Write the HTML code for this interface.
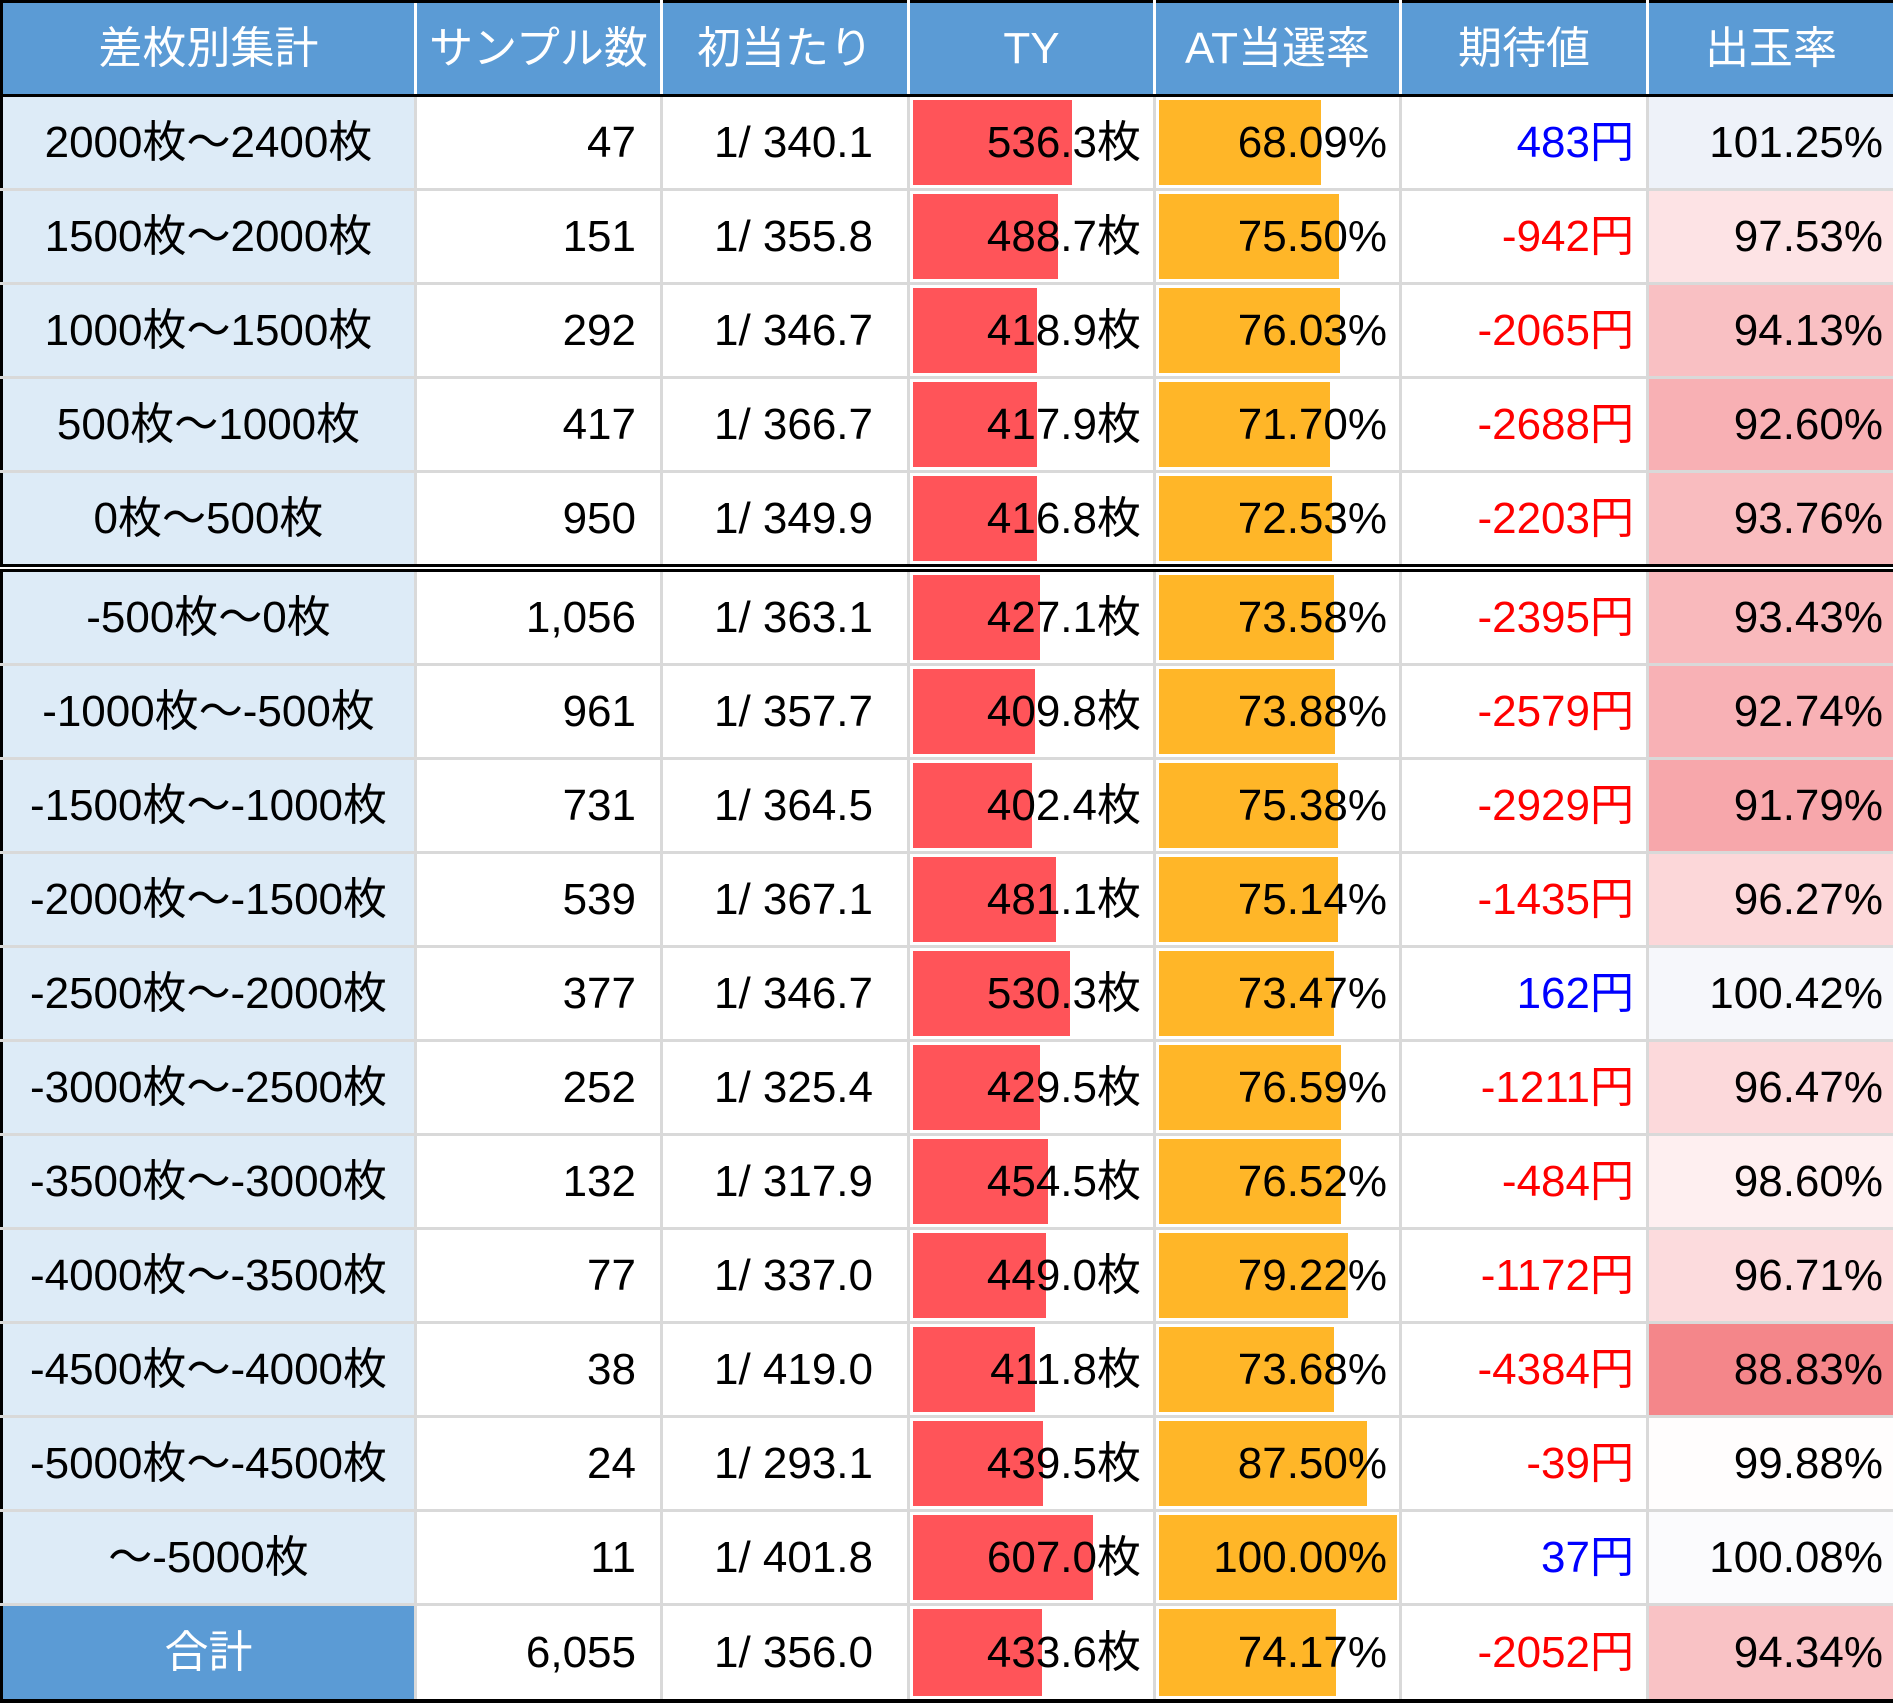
<!DOCTYPE html>
<html><head><meta charset="utf-8"><style>
body{margin:0;width:1893px;height:1706px;background:#fff;overflow:hidden}
table{border-collapse:collapse;table-layout:fixed;position:absolute;left:0;top:0;width:1893px;font-family:"Liberation Sans","Noto Sans CJK JP",sans-serif;font-size:44px;color:#000}
td,th{border:3px solid #d9d9d9;padding:0 12px 0 0;text-align:right;height:91px;line-height:50px;position:relative;white-space:nowrap;vertical-align:middle}
th{background:#5b9bd5;color:#fff;font-weight:normal;text-align:center;padding:0;border:3px solid #fff;border-top:3px solid #000;border-bottom:3px solid #000;height:91px}
th:first-child{border-left:3px solid #000;border-right:2px solid #000}
th:last-child{border-right:3px solid #000}
td.h{background:#ddebf7;text-align:center;padding:0;border-left:3px solid #000;border-right:2px solid #000}
td:last-child{border-right:3px solid #000;padding-right:10px}
td.n{padding-right:24px}
td.f{padding-right:34px}
tr.dbl td{border-bottom:8px double #000}
tr.tot td{border-top:3px solid #000;border-bottom:4px solid #000;height:93px}
tr.tot td.h{background:#5b9bd5;color:#fff}
.b{position:absolute;left:3px;top:3px;bottom:3px;background:#ff5459}
.a{position:absolute;left:3px;top:3px;bottom:3px;background:#ffb628}
.t{position:relative}
.r{color:#f00}.bl{color:#00f}
</style></head><body>
<table>
<colgroup><col style="width:414px"><col style="width:246px"><col style="width:247px"><col style="width:246px"><col style="width:246px"><col style="width:247px"><col style="width:247px"></colgroup>
<tr><th>差枚別集計</th><th>サンプル数</th><th>初当たり</th><th>TY</th><th>AT当選率</th><th>期待値</th><th>出玉率</th></tr>
<tr><td class="h">2000枚～2400枚</td><td class="n">47</td><td class="f">1/ 340.1</td><td><div class="b" style="width:159px"></div><span class="t">536.3枚</span></td><td><div class="a" style="width:162px"></div><span class="t">68.09%</span></td><td class="bl">483円</td><td style="background:#eef2f9">101.25%</td></tr>
<tr><td class="h">1500枚～2000枚</td><td class="n">151</td><td class="f">1/ 355.8</td><td><div class="b" style="width:145px"></div><span class="t">488.7枚</span></td><td><div class="a" style="width:180px"></div><span class="t">75.50%</span></td><td class="r">-942円</td><td style="background:#fde3e5">97.53%</td></tr>
<tr><td class="h">1000枚～1500枚</td><td class="n">292</td><td class="f">1/ 346.7</td><td><div class="b" style="width:124px"></div><span class="t">418.9枚</span></td><td><div class="a" style="width:181px"></div><span class="t">76.03%</span></td><td class="r">-2065円</td><td style="background:#f9c0c3">94.13%</td></tr>
<tr><td class="h">500枚～1000枚</td><td class="n">417</td><td class="f">1/ 366.7</td><td><div class="b" style="width:124px"></div><span class="t">417.9枚</span></td><td><div class="a" style="width:171px"></div><span class="t">71.70%</span></td><td class="r">-2688円</td><td style="background:#f8b0b4">92.60%</td></tr>
<tr class="dbl"><td class="h">0枚～500枚</td><td class="n">950</td><td class="f">1/ 349.9</td><td><div class="b" style="width:124px"></div><span class="t">416.8枚</span></td><td><div class="a" style="width:173px"></div><span class="t">72.53%</span></td><td class="r">-2203円</td><td style="background:#f9bcbf">93.76%</td></tr>
<tr><td class="h">-500枚～0枚</td><td class="n">1,056</td><td class="f">1/ 363.1</td><td><div class="b" style="width:127px"></div><span class="t">427.1枚</span></td><td><div class="a" style="width:175px"></div><span class="t">73.58%</span></td><td class="r">-2395円</td><td style="background:#f9b9bc">93.43%</td></tr>
<tr><td class="h">-1000枚～-500枚</td><td class="n">961</td><td class="f">1/ 357.7</td><td><div class="b" style="width:122px"></div><span class="t">409.8枚</span></td><td><div class="a" style="width:176px"></div><span class="t">73.88%</span></td><td class="r">-2579円</td><td style="background:#f8b1b5">92.74%</td></tr>
<tr><td class="h">-1500枚～-1000枚</td><td class="n">731</td><td class="f">1/ 364.5</td><td><div class="b" style="width:119px"></div><span class="t">402.4枚</span></td><td><div class="a" style="width:179px"></div><span class="t">75.38%</span></td><td class="r">-2929円</td><td style="background:#f7a7ab">91.79%</td></tr>
<tr><td class="h">-2000枚～-1500枚</td><td class="n">539</td><td class="f">1/ 367.1</td><td><div class="b" style="width:143px"></div><span class="t">481.1枚</span></td><td><div class="a" style="width:179px"></div><span class="t">75.14%</span></td><td class="r">-1435円</td><td style="background:#fcd7d9">96.27%</td></tr>
<tr><td class="h">-2500枚～-2000枚</td><td class="n">377</td><td class="f">1/ 346.7</td><td><div class="b" style="width:157px"></div><span class="t">530.3枚</span></td><td><div class="a" style="width:175px"></div><span class="t">73.47%</span></td><td class="bl">162円</td><td style="background:#f6f7fb">100.42%</td></tr>
<tr><td class="h">-3000枚～-2500枚</td><td class="n">252</td><td class="f">1/ 325.4</td><td><div class="b" style="width:127px"></div><span class="t">429.5枚</span></td><td><div class="a" style="width:182px"></div><span class="t">76.59%</span></td><td class="r">-1211円</td><td style="background:#fcd9db">96.47%</td></tr>
<tr><td class="h">-3500枚～-3000枚</td><td class="n">132</td><td class="f">1/ 317.9</td><td><div class="b" style="width:135px"></div><span class="t">454.5枚</span></td><td><div class="a" style="width:182px"></div><span class="t">76.52%</span></td><td class="r">-484円</td><td style="background:#feeff0">98.60%</td></tr>
<tr><td class="h">-4000枚～-3500枚</td><td class="n">77</td><td class="f">1/ 337.0</td><td><div class="b" style="width:133px"></div><span class="t">449.0枚</span></td><td><div class="a" style="width:189px"></div><span class="t">79.22%</span></td><td class="r">-1172円</td><td style="background:#fcdbdd">96.71%</td></tr>
<tr><td class="h">-4500枚～-4000枚</td><td class="n">38</td><td class="f">1/ 419.0</td><td><div class="b" style="width:122px"></div><span class="t">411.8枚</span></td><td><div class="a" style="width:175px"></div><span class="t">73.68%</span></td><td class="r">-4384円</td><td style="background:#f4868a">88.83%</td></tr>
<tr><td class="h">-5000枚～-4500枚</td><td class="n">24</td><td class="f">1/ 293.1</td><td><div class="b" style="width:130px"></div><span class="t">439.5枚</span></td><td><div class="a" style="width:208px"></div><span class="t">87.50%</span></td><td class="r">-39円</td><td style="background:#fffdfd">99.88%</td></tr>
<tr><td class="h">～-5000枚</td><td class="n">11</td><td class="f">1/ 401.8</td><td><div class="b" style="width:180px"></div><span class="t">607.0枚</span></td><td><div class="a" style="width:238px"></div><span class="t">100.00%</span></td><td class="bl">37円</td><td style="background:#fbfbfd">100.08%</td></tr>
<tr class="tot"><td class="h">合計</td><td class="n">6,055</td><td class="f">1/ 356.0</td><td><div class="b" style="width:129px"></div><span class="t">433.6枚</span></td><td><div class="a" style="width:177px"></div><span class="t">74.17%</span></td><td class="r">-2052円</td><td style="background:#f9c2c5">94.34%</td></tr>
</table>
</body></html>
